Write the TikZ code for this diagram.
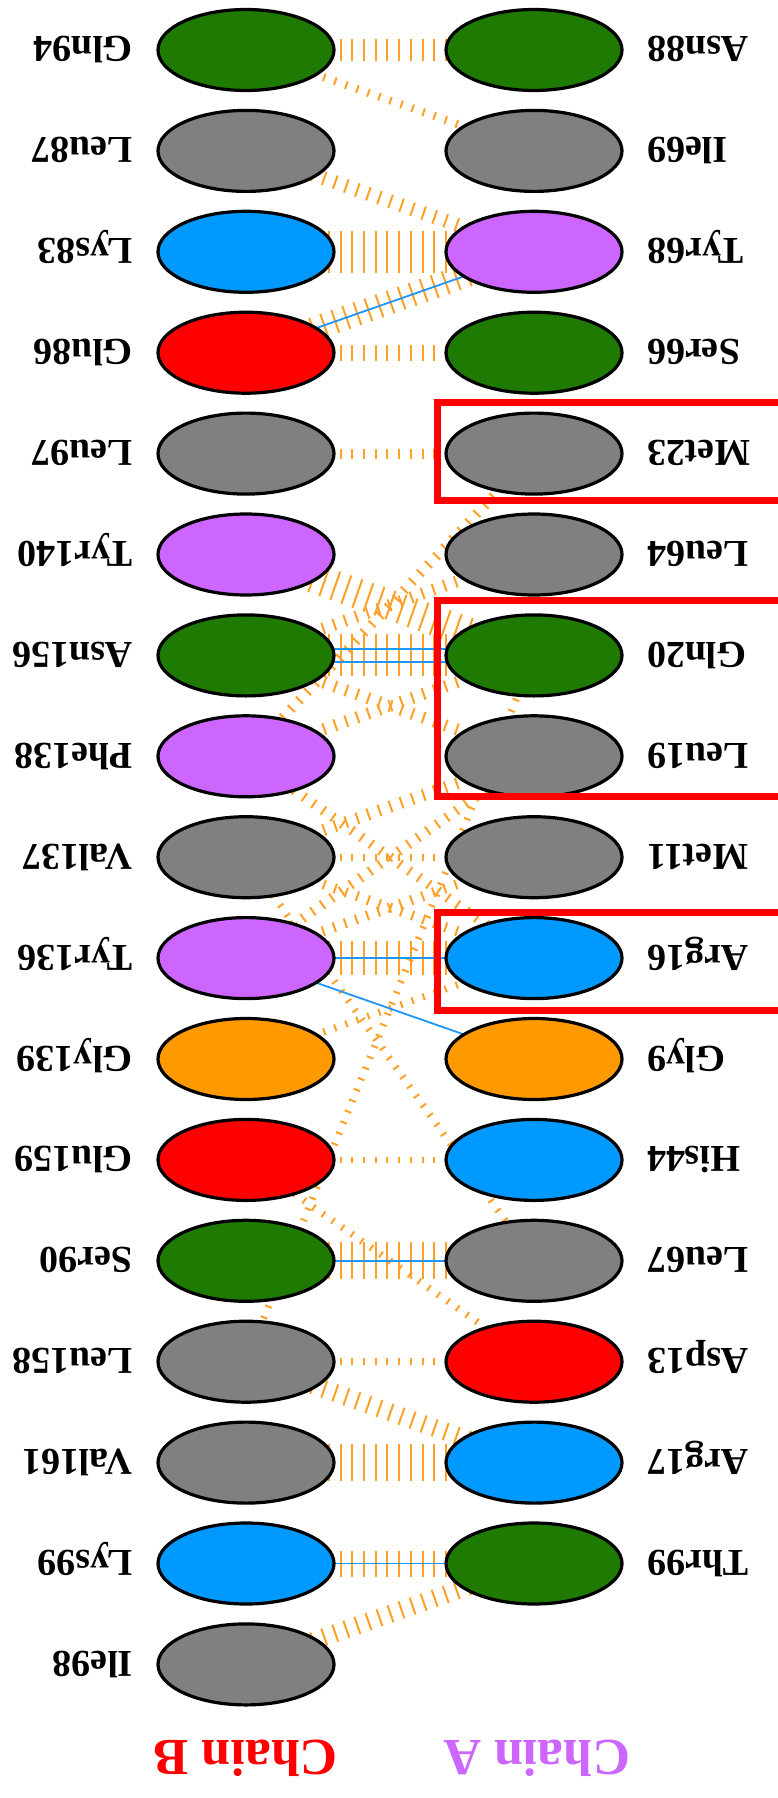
\documentclass[tikz,border=0pt]{standalone}
\usepackage{fontspec}
\setmainfont{Liberation Serif}
\usetikzlibrary{shapes.geometric}
\pgfdeclarelayer{bg}
\pgfsetlayers{bg,main}
\definecolor{cgreen}{RGB}{30,122,0}
\definecolor{cgray}{RGB}{128,128,128}
\definecolor{cblue}{RGB}{0,153,255}
\definecolor{cpurple}{RGB}{204,102,255}
\definecolor{cred}{RGB}{255,0,0}
\definecolor{corange}{RGB}{255,153,0}
\definecolor{hbblue}{RGB}{30,150,255}
\definecolor{nbc}{RGB}{255,160,40}
\begin{document}
\begin{tikzpicture}[x=1pt,y=-1pt,
  res/.style={ellipse, draw=black, line width=3.2pt, minimum width=176pt, minimum height=81pt, inner sep=0pt},
  lab/.style={rotate=180, font=\bfseries\fontsize{38}{40}\selectfont, inner sep=0pt, text height=26pt, text depth=0pt},
  nb/.style={draw=nbc, dash pattern=on 2pt off 9.7pt},
  hb/.style={draw=hbblue, line width=1.8pt},
  box/.style={draw=cred, line width=7pt}]
\clip (0,0) rectangle (778,1798);
% left column (Chain B)
\foreach \n/\c/\t [count=\i] in {L1/cgreen/Gln94, L2/cgray/Leu87, L3/cblue/Lys83, L4/cred/Glu86, L5/cgray/Leu97, L6/cpurple/Tyr140, L7/cgreen/Asn156, L8/cpurple/Phe138, L9/cgray/Val137, L10/cpurple/Tyr136, L11/corange/Gly139, L12/cred/Glu159, L13/cgreen/Ser90, L14/cgray/Leu158, L15/cgray/Val161, L16/cblue/Lys99, L17/cgray/Ile98}{
  \node[res, fill=\c] (\n) at (246,{50+(\i-1)*100.9}) {};
  \node[lab, anchor=west] (t\n) at (133,{50+(\i-1)*100.9}) {\t};
}
% right column (Chain A)
\foreach \n/\c/\t [count=\i] in {R1/cgreen/Asn88, R2/cgray/Ile69, R3/cpurple/Tyr68, R4/cgreen/Ser66, R5/cgray/Met23, R6/cgray/Leu64, R7/cgreen/Gln20, R8/cgray/Leu19, R9/cgray/Met11, R10/cblue/Arg16, R11/corange/Gly9, R12/cblue/His44, R13/cgray/Leu67, R14/cred/Asp13, R15/cblue/Arg17, R16/cgreen/Thr99}{
  \node[res, fill=\c] (\n) at (534,{50+(\i-1)*100.9}) {};
  \node[lab, anchor=east] (t\n) at (647,{50+(\i-1)*100.9}) {\t};
}
\node[rotate=180, font=\bfseries\fontsize{52}{54}\selectfont, text=cred, inner sep=0pt] (cB) at (246,1758) {Chain B};
\node[rotate=180, font=\bfseries\fontsize{52}{54}\selectfont, text=cpurple, inner sep=0pt] (cA) at (537,1758) {Chain A};
\begin{pgfonlayer}{bg}
\fill[white] (0,0) rectangle (778,1798);
% non-bonded contacts
\draw[nb, line width=22pt] (L1.center) -- (R1.center);
\draw[nb, line width=8pt] (L1.center) -- (R2.center);
\draw[nb, line width=14pt] (L2.center) -- (R3.center);
\draw[nb, line width=42pt] (L3.center) -- (R3.center);
\draw[nb, line width=24pt] (L4.center) -- (R3.center);
\draw[nb, line width=16pt] (L4.center) -- (R4.center);
\draw[nb, line width=10pt] (L5.center) -- (R5.center);
\draw[nb, line width=10pt] (R5.center) -- (L8.center);
\draw[nb, line width=30pt] (L6.center) -- (R7.center);
\draw[nb, line width=12pt] (R6.center) -- (L7.center);
\draw[nb, line width=42pt] (L7.center) -- (R7.center);
\draw[nb, line width=12pt] (L7.center) -- (R8.center);
\draw[nb, line width=12pt] (L8.center) -- (R7.center);
\draw[nb, line width=12pt] (L9.center) -- (R8.center);
\draw[nb, line width=10pt] (L8.center) -- (R10.center);
\draw[nb, line width=10pt] (R8.center) -- (L10.center);
\draw[nb, line width=10pt] (L9.center) -- (R10.center);
\draw[nb, line width=10pt] (R9.center) -- (L10.center);
\draw[nb, line width=7pt] (L9.center) -- (R9.center);
\draw[nb, line width=34pt] (L10.center) -- (R10.center);
\draw[nb, line width=7pt] (L11.center) -- (R10.center);
\draw[nb, line width=7pt] (L9.center) -- (R13.center);
\draw[nb, line width=7pt] (L14.center) -- (R7.center);
\draw[nb, line width=6pt] (L12.center) -- (R12.center);
\draw[nb, line width=7pt] (L12.center) -- (R14.center);
\draw[nb, line width=37pt] (L13.center) -- (R13.center);
\draw[nb, line width=7pt] (L14.center) -- (R14.center);
\draw[nb, line width=18pt] (L14.center) -- (R15.center);
\draw[nb, line width=37pt] (L15.center) -- (R15.center);
\draw[nb, line width=26pt] (L16.center) -- (R16.center);
\draw[nb, line width=18pt] (L17.center) -- (R16.center);
% hydrogen bonds
\draw[hb] (L4.center) -- (R3.center);
\draw[hb] ([yshift=6.5pt]L7.center) -- ([yshift=6.5pt]R7.center);
\draw[hb] ([yshift=-6.5pt]L7.center) -- ([yshift=-6.5pt]R7.center);
\draw[hb] (L10.center) -- (R10.center);
\draw[hb] (L10.center) -- (R11.center);
\draw[hb] (L13.center) -- (R13.center);
\draw[hb] (L16.center) -- (R16.center);
\end{pgfonlayer}
% highlight boxes
\draw[box] (437,402) rectangle (800,500);
\draw[box] (437,600) rectangle (800,796);
\draw[box] (437,912) rectangle (800,1010);
\end{tikzpicture}
\end{document}
